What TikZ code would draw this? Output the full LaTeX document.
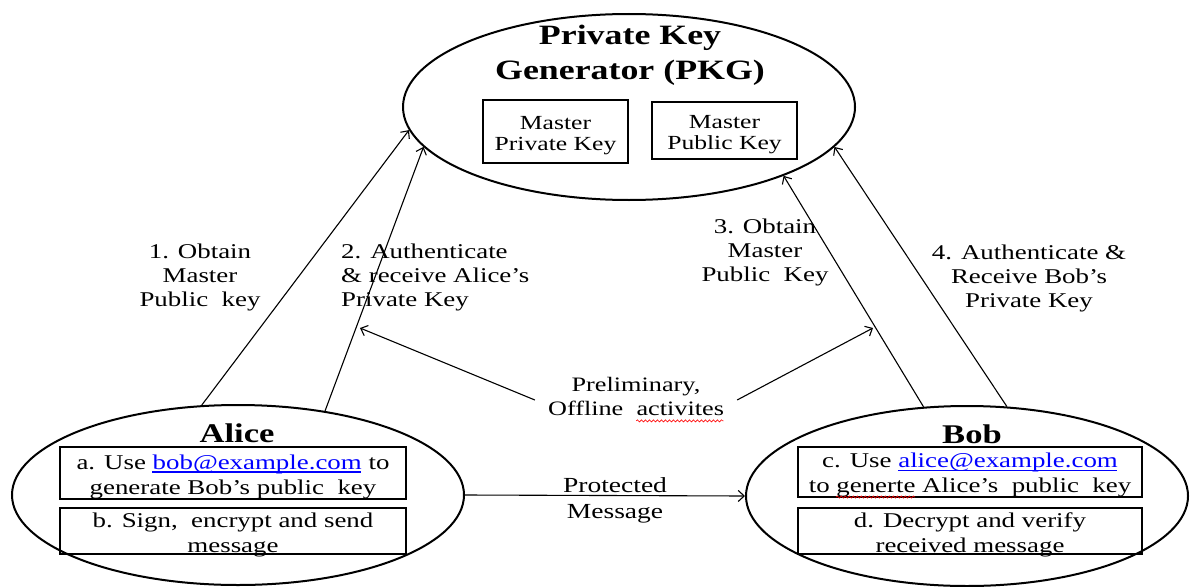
\documentclass[tikz,border=0pt]{standalone}
\usepackage{fontspec}
\setmainfont[FakeStretch=1.28]{Liberation Serif}
\usetikzlibrary{arrows.meta,shapes.geometric,decorations.pathmorphing}

\newsavebox\markbox
% red wavy underline, as a spell checker marks a word
\newcommand\spellwave[1]{\sbox\markbox{#1}\usebox\markbox\llap{\tikz[baseline=0pt,x=1pt,y=1pt]
  \draw[red, line width=0.6pt, decorate, decoration={snake, amplitude=1.1pt, segment length=4pt}]
  (0pt,-5pt) -- (\the\wd\markbox,-5pt);}}
% blue underlined mail address
\newcommand\maillink[1]{\sbox\markbox{\textcolor{blue}{#1}}\usebox\markbox\llap{\tikz[baseline=0pt,x=1pt,y=1pt]
  \draw[blue, line width=1.1pt] (0pt,-3pt) -- (\the\wd\markbox,-3pt);}}

\tikzset{
  oval/.style={ellipse, draw, line width=2pt, inner sep=0pt},
  frame/.style={rectangle, draw, line width=1.8pt, inner sep=0pt},
  keytext/.style={inner sep=0pt, align=center, yshift=-4pt, font=\fontsize{20}{21}\selectfont},
  steptext/.style={inner sep=0pt, align=center, yshift=-3.5pt, font=\fontsize{21}{25}\selectfont},
  heading/.style={inner sep=0pt, align=center, yshift=-3pt, font=\bfseries\fontsize{28}{35}\selectfont},
  party/.style={inner sep=0pt, yshift=-1pt, font=\bfseries\fontsize{27}{30}\selectfont},
  label/.style={inner sep=0pt, align=center, yshift=-3pt, font=\fontsize{21}{24}\selectfont},
  conn/.style={draw, line width=1.1pt, -{Straight Barb[length=6pt,width=11pt]}}
}

\begin{document}
\begin{tikzpicture}[x=1pt,y=-1pt]
\path[use as bounding box, fill=white] (0,0) rectangle (1190,586);

% key generator
\node[oval, minimum width=452pt, minimum height=186pt] (pkg) at (629,107) {};
\node[heading] (pkgtitle) at (630,52) {Private Key\\Generator (PKG)};
\node[frame, minimum width=145pt, minimum height=63pt] (mpriv) at (555.5,131.5) {};
\node[keytext] (mprivtext) at (mpriv.center) {Master\\Private Key};
\node[frame, minimum width=145pt, minimum height=57pt] (mpub) at (724.5,130.5) {};
\node[keytext] (mpubtext) at (mpub.center) {Master\\Public Key};

% Alice
\node[oval, minimum width=452pt, minimum height=180pt] (alice) at (238,495) {};
\node[party] (alicetitle) at (237,432) {Alice};
\node[frame, minimum width=346pt, minimum height=52pt] (stepa) at (233,473) {};
\node[steptext] (stepatext) at (stepa.center) {a. Use \maillink{bob@example.com} to\\generate Bob’s public\ \ key};
\node[frame, minimum width=346pt, minimum height=46pt] (stepb) at (233,531) {};
\node[steptext] (stepbtext) at (stepb.center) {b. Sign,\ \ encrypt and send\\message};

% Bob
\node[oval, minimum width=442pt, minimum height=180pt] (bob) at (967,496) {};
\node[party] (bobtitle) at (972,433) {Bob};
\node[frame, minimum width=344pt, minimum height=50pt] (stepc) at (970,472) {};
\node[steptext] (stepctext) at (stepc.center) {c. Use \maillink{alice@example.com}\\to \spellwave{generte} Alice’s\ \ public\ \ key};
\node[frame, minimum width=344pt, minimum height=46pt] (stepd) at (970,531) {};
\node[steptext] (stepdtext) at (stepd.center) {d. Decrypt and verify\\received message};

% requests to the key generator
\draw[conn] (alice.112) -- (pkg.186);
\draw[conn] (alice.44) -- (pkg.191);
\draw[conn] (bob.116) -- (pkg.336);
\draw[conn] (bob.66) -- (pkg.349);

\node[label] (l1) at (200,274) {1. Obtain\\Master\\Public\ \ key};
\node[label, align=left, anchor=west] (l2) at (341,274) {2. Authenticate\\\& receive Alice’s\\Private Key};
\node[label] (l3) at (765,249) {3. Obtain\\Master\\Public\ \ Key};
\node[label] (l4) at (1029,275) {4. Authenticate \&\\Receive Bob’s\\Private Key};

% preliminary phase
\node[label, inner xsep=13pt, font=\fontsize{20.5}{24}\selectfont] (prelim) at (636,397) {Preliminary,\\Offline\ \ \spellwave{activites}};
\coordinate (pl) at (360,328);
\coordinate (pr) at (873,328);
\draw[conn] (prelim.west) -- (pl);
\draw[conn] (prelim.east) -- (pr);

% message exchange
\draw[conn] (alice.east) -- (bob.west);
\node[label, font=\fontsize{21.5}{26}\selectfont] (msg) at (615,497) {Protected\\Message};
\end{tikzpicture}
\end{document}
